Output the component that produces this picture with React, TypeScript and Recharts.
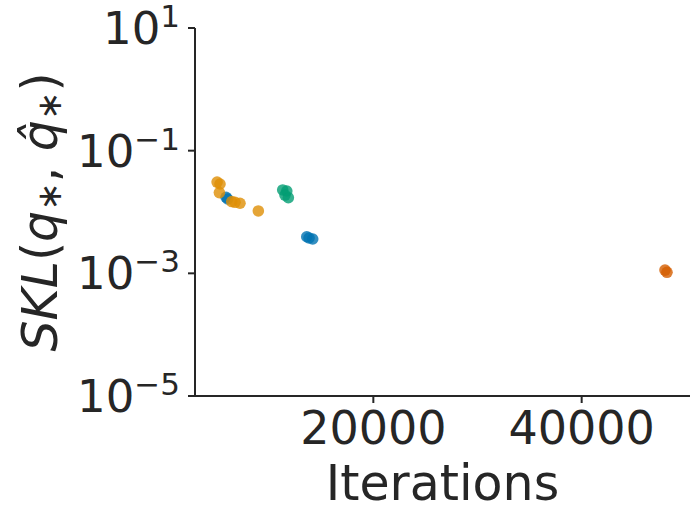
import React from "react";
import { ScatterChart, Scatter, XAxis, YAxis } from "recharts";

// iterations and SKL values, one list per method
const blueIters = [5860, 6020, 13610, 13830, 14180];
const blueSkl = [0.0174, 0.0163, 0.00395, 0.00377, 0.00363];

const orangeIters = [5000, 5280, 5220, 6410, 6720, 7200, 8960];
const orangeSkl = [0.0308, 0.0286, 0.0207, 0.0148, 0.0144, 0.0139, 0.0104];

const greenIters = [11300, 11690, 11520, 11840];
const greenSkl = [0.0229, 0.022, 0.0189, 0.0171];

const redIters = [48000, 48190];
const redSkl = [0.00113, 0.00104];

const xTicks = [20000, 40000];
const yTicks = [1e-5, 1e-3, 1e-1, 10];

const toPoints = (xs: number[], ys: number[]) =>
	xs.map((x, i) => ({ x, y: ys[i] }));

const series = [
	{ name: "blue", color: "#0173b2", data: toPoints(blueIters, blueSkl) },
	{ name: "orange", color: "#de8f05", data: toPoints(orangeIters, orangeSkl) },
	{ name: "green", color: "#029e73", data: toPoints(greenIters, greenSkl) },
	{ name: "red", color: "#d55e00", data: toPoints(redIters, redSkl) },
];

const ink = "#262626";
const font = "DejaVu Sans";

const XTick = (props: any) => {
	const { x, y, payload } = props;
	return (
		<text x={x} y={y + 39} textAnchor="middle" fontSize={46} fill={ink} fontFamily={font}>
			{payload.value}
		</text>
	);
};

const YTick = (props: any) => {
	const { x, y, payload } = props;
	const exp = Math.round(Math.log10(payload.value));
	const expText = exp < 0 ? "\u2212" + Math.abs(exp) : String(exp);
	return (
		<text x={x - 6} y={y + 16} textAnchor="end" fontSize={45} fill={ink} fontFamily={font}>
			10
			<tspan dy={-17} fontSize={31}>
				{expText}
			</tspan>
		</text>
	);
};

const XLabel = (props: any) => {
	const { viewBox } = props;
	return (
		<text
			x={viewBox.x + viewBox.width / 2}
			y={500}
			textAnchor="middle"
			fontSize={49}
			fill={ink}
			fontFamily={font}
		>
			Iterations
		</text>
	);
};

const YLabel = (props: any) => {
	const { viewBox } = props;
	const cx = 57;
	const cy = viewBox.y + viewBox.height / 2;
	return (
		<text
			x={cx}
			y={cy}
			transform={`rotate(-90, ${cx}, ${cy})`}
			textAnchor="middle"
			fontSize={49}
			fill={ink}
			fontFamily={font}
		>
			<tspan fontStyle="italic">SKL</tspan>
			<tspan>(</tspan>
			<tspan fontStyle="italic">q</tspan>
			<tspan fontSize={34} dy={4}>{"\u2217"}</tspan>
			<tspan dy={-4}>{", "}</tspan>
			<tspan fontStyle="italic">{"q\u0302"}</tspan>
			<tspan fontSize={34} dy={4}>{"\u2217"}</tspan>
			<tspan dy={-4}>)</tspan>
		</text>
	);
};

const Dot = (props: any) => (
	<circle cx={props.cx} cy={props.cy} r={5.8} fill={props.fill} fillOpacity={0.8} />
);

export default function App() {
	return (
		<div style={{ position: "absolute", left: 0, top: 0, background: "#fff" }}>
			<ScatterChart
				width={700}
				height={519}
				margin={{ top: 28, right: 10, bottom: 0, left: 0 }}
			>
				<XAxis
					type="number"
					dataKey="x"
					domain={[2880, 50400]}
					ticks={xTicks}
					allowDataOverflow
					height={123}
					tickSize={7}
					axisLine={{ stroke: ink, strokeWidth: 2 }}
					tickLine={{ stroke: ink, strokeWidth: 2 }}
					tick={<XTick />}
					label={<XLabel />}
				/>
				<YAxis
					type="number"
					dataKey="y"
					scale="log"
					domain={[1e-5, 10]}
					ticks={yTicks}
					allowDataOverflow
					width={195}
					tickSize={7}
					axisLine={{ stroke: ink, strokeWidth: 2 }}
					tickLine={{ stroke: ink, strokeWidth: 2 }}
					tick={<YTick />}
					label={<YLabel />}
				/>
				{series.map((s) => (
					<Scatter
						key={s.name}
						name={s.name}
						data={s.data}
						fill={s.color}
						shape={<Dot />}
						isAnimationActive={false}
					/>
				))}
			</ScatterChart>
		</div>
	);
}
